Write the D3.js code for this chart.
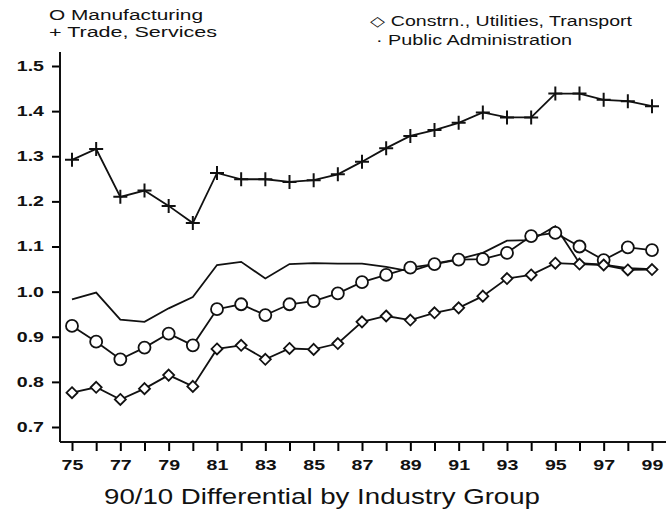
<!DOCTYPE html>
<html>
<head>
<meta charset="utf-8">
<script src="https://cdn.jsdelivr.net/npm/d3@7"></script>
<style>
  body { margin: 0; background: #fff; }
  text { font-family: "Liberation Sans", Arial, sans-serif; fill: #111; }
</style>
</head>
<body>
<div id="chart"></div>
<script>
const years = d3.range(75, 100);
const manufacturing = [0.924, 0.889, 0.850, 0.876, 0.907, 0.881, 0.961, 0.972, 0.948, 0.972, 0.979, 0.996, 1.021,
  1.037, 1.053, 1.061, 1.071, 1.072, 1.086, 1.123, 1.130, 1.100, 1.070, 1.098, 1.092];
const trade = [1.292, 1.316, 1.210, 1.224, 1.190, 1.152, 1.263, 1.249, 1.249, 1.243, 1.247, 1.260, 1.288,
  1.318, 1.345, 1.358, 1.374, 1.397, 1.386, 1.386, 1.439, 1.439, 1.425, 1.422, 1.411];
const construction = [0.776, 0.788, 0.761, 0.785, 0.815, 0.790, 0.873, 0.881, 0.850, 0.874, 0.872, 0.885, 0.933,
  0.946, 0.937, 0.953, 0.964, 0.990, 1.029, 1.037, 1.063, 1.061, 1.059, 1.048, 1.049];
const publicAdmin = [0.983, 0.998, 0.938, 0.933, 0.963, 0.988, 1.059, 1.066, 1.029, 1.061, 1.063, 1.062, 1.062,
  1.055, 1.045, 1.062, 1.072, 1.086, 1.113, 1.114, 1.145, 1.063, 1.060, 1.052, 1.050];
const yTicks = [0.7, 0.8, 0.9, 1.0, 1.1, 1.2, 1.3, 1.4, 1.5];
const xLabels = d3.range(75, 100, 2);

const WIDTH = 666, HEIGHT = 518;
const svg = d3.select('#chart').append('svg').attr('width', WIDTH).attr('height', HEIGHT);

const x = d3.scaleLinear().domain([75, 99]).range([72, 652]);
const y = d3.scaleLinear().domain([0.7, 1.5]).range([427, 66]);
const AXIS_X = 60, AXIS_Y = 442;
const STRETCH = 1.4; // the scanned text is wider than the font

// axes
const yAxis = svg.append('g').attr('transform', `translate(${AXIS_X},0)`)
  .call(d3.axisLeft(y).tickValues(yTicks).tickFormat(d3.format('.1f')).tickSize(8));
yAxis.select('.domain').remove();
yAxis.append('line').attr('y1', 52).attr('y2', AXIS_Y).attr('stroke', '#111').attr('stroke-width', 2);
yAxis.selectAll('line').attr('stroke-width', 2);
yAxis.selectAll('text')
  .attr('x', -16 / STRETCH)
  .attr('transform', `scale(${STRETCH},1)`)
  .style('font-size', '14px').style('font-weight', 'bold').attr('fill', '#222');

const xAxis = svg.append('g').attr('transform', `translate(0,${AXIS_Y})`)
  .call(d3.axisBottom(x).tickValues(years).tickFormat(d => xLabels.includes(d) ? d : '').tickSize(9).tickPadding(9));
xAxis.select('.domain').remove();
xAxis.append('line').attr('x1', AXIS_X).attr('x2', WIDTH).attr('stroke', '#111').attr('stroke-width', 2);
xAxis.selectAll('line').attr('stroke-width', 2);
xAxis.selectAll('text')
  .attr('transform', `scale(${STRETCH},1)`)
  .style('font-size', '14px').style('font-weight', 'bold').attr('fill', '#222');

// lines
const line = d3.line().x((d, i) => x(years[i])).y(d => y(d));
[manufacturing, trade, construction, publicAdmin].forEach(s => {
  svg.append('path').datum(s).attr('d', line)
    .attr('fill', 'none').attr('stroke', '#111').attr('stroke-width', 1.8);
});

// markers
svg.append('g').selectAll('circle').data(manufacturing).enter().append('circle')
  .attr('cx', (d, i) => x(years[i])).attr('cy', d => y(d)).attr('r', 6)
  .attr('fill', 'white').attr('stroke', '#111').attr('stroke-width', 1.8);

svg.append('g').selectAll('path').data(construction).enter().append('path')
  .attr('transform', (d, i) => `translate(${x(years[i])},${y(d)})`)
  .attr('d', 'M0,-5.5L5.5,0L0,5.5L-5.5,0Z')
  .attr('fill', 'white').attr('stroke', '#111').attr('stroke-width', 1.8);

svg.append('g').selectAll('path').data(trade).enter().append('path')
  .attr('transform', (d, i) => `translate(${x(years[i])},${y(d)})`)
  .attr('d', 'M-7,0H7M0,-7V7')
  .attr('stroke', '#111').attr('stroke-width', 2);

// legend
const legendItems = [
  { label: 'O Manufacturing', x: 49, y: 20, len: 154 },
  { label: '+ Trade, Services', x: 49, y: 37, len: 168 },
  { label: '◇ Constrn., Utilities, Transport', x: 370, y: 26, len: 262 },
  { label: '· Public Administration', x: 376, y: 45, len: 196 }
];
svg.append('g').selectAll('text').data(legendItems).enter().append('text')
  .attr('x', d => d.x).attr('y', d => d.y)
  .attr('textLength', d => d.len).attr('lengthAdjust', 'spacingAndGlyphs')
  .style('font-size', '14px')
  .text(d => d.label);

// title
svg.append('text').attr('x', 322).attr('y', 504).attr('text-anchor', 'middle')
  .attr('textLength', 436).attr('lengthAdjust', 'spacingAndGlyphs')
  .style('font-size', '22px').text('90/10 Differential by Industry Group');
</script>
</body>
</html>
